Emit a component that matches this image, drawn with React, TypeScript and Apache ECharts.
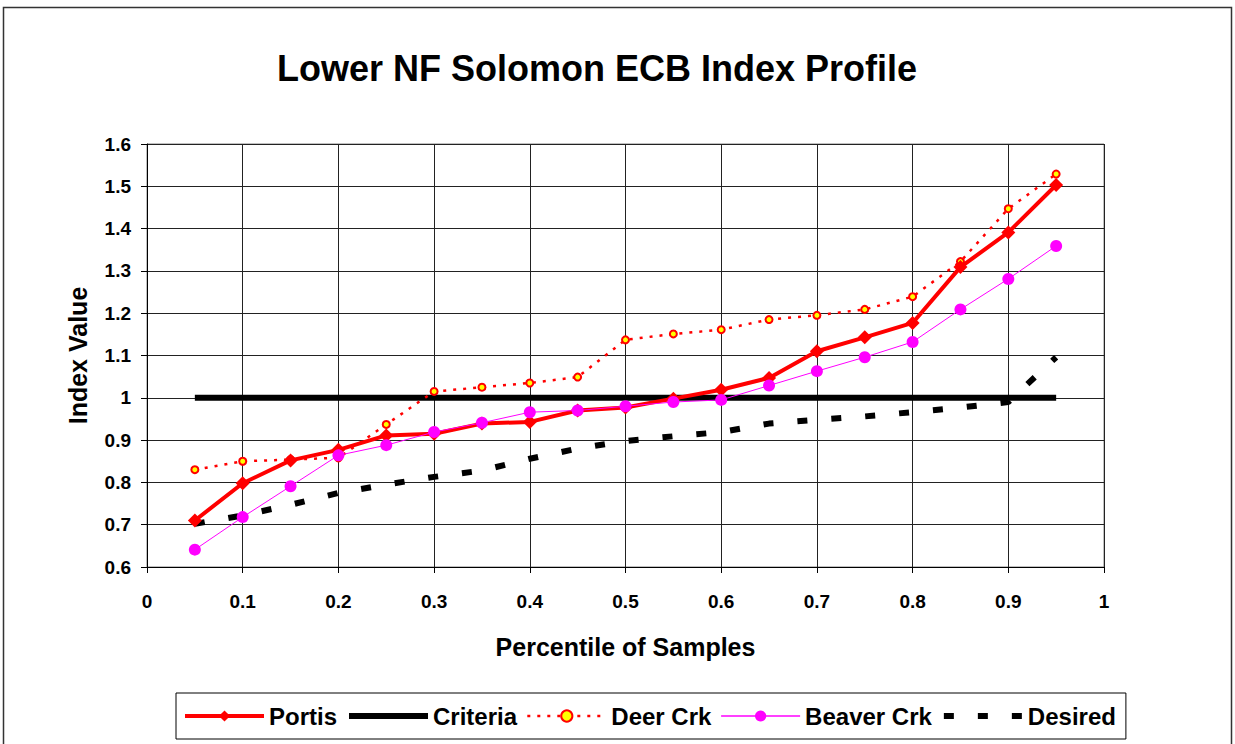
import React, { useEffect, useRef } from "react";
import * as echarts from "echarts";

const percentiles = [0.05, 0.1, 0.15, 0.2, 0.25, 0.3, 0.35, 0.4, 0.45, 0.5, 0.55, 0.6, 0.65, 0.7, 0.75, 0.8, 0.85, 0.9, 0.95];
const portis = [0.71, 0.798, 0.852, 0.877, 0.911, 0.915, 0.939, 0.943, 0.97, 0.977, 0.998, 1.019, 1.047, 1.11, 1.143, 1.177, 1.309, 1.391, 1.503];
const criteria = [1, 1, 1, 1, 1, 1, 1, 1, 1, 1, 1, 1, 1, 1, 1, 1, 1, 1, 1];
const deerCrk = [0.83, 0.85, 0.854, 0.858, 0.937, 1.015, 1.025, 1.035, 1.049, 1.137, 1.151, 1.161, 1.185, 1.195, 1.209, 1.239, 1.322, 1.447, 1.529];
const beaverCrk = [0.641, 0.718, 0.791, 0.864, 0.888, 0.919, 0.941, 0.966, 0.97, 0.98, 0.99, 0.995, 1.029, 1.063, 1.096, 1.132, 1.209, 1.281, 1.359];
const desired = [0.702, 0.722, 0.747, 0.775, 0.795, 0.813, 0.828, 0.856, 0.88, 0.898, 0.909, 0.919, 0.939, 0.948, 0.956, 0.966, 0.977, 0.99, 1.096];

const FONT = 'Arial, "Liberation Sans", sans-serif';

const pairs = (ys: number[]) => percentiles.map((x, i) => [x, ys[i]]);

export default function App() {
  const ref = useRef<HTMLDivElement>(null);
  useEffect(() => {
    if (!ref.current) return;
    const chart = echarts.init(ref.current, undefined, { renderer: "svg" });
    chart.setOption({
      animation: false,
      backgroundColor: "#ffffff",
      title: {
        text: "Lower NF Solomon ECB Index Profile",
        left: 272,
        top: 45,
        textStyle: { fontFamily: FONT, fontWeight: "bold", fontSize: 36, color: "#000" },
      },
      graphic: [
        {
          type: "rect",
          shape: { x: 3.5, y: 7.5, width: 1228, height: 760 },
          style: { fill: "none", stroke: "#333", lineWidth: 1.5 },
          silent: true,
          z: -1,
        },
      ],
      legend: {
        left: 176,
        top: 693,
        padding: [11, 10, 11, 7],
        borderColor: "#000",
        borderWidth: 1,
        itemWidth: 79,
        itemHeight: 14,
        itemGap: 9,
        data: [
          { name: "Portis", lineStyle: { width: 4 } },
          { name: "Criteria", lineStyle: { width: 6 }, itemStyle: { opacity: 0 } },
          { name: "Deer Crk", lineStyle: { width: 2.5, type: [3, 7] } },
          { name: "Beaver Crk", lineStyle: { width: 1.5 } },
          { name: "Desired", lineStyle: { width: 6, type: [10, 24] }, itemStyle: { opacity: 0 } },
        ],
        textStyle: { fontFamily: FONT, fontWeight: "bold", fontSize: 24, color: "#000" },
      },
      grid: {
        left: 147,
        right: 131,
        top: 144,
        bottom: 177,
        show: true,
        borderColor: "#808080",
        borderWidth: 1,
      },
      xAxis: {
        type: "value",
        min: 0,
        max: 1,
        interval: 0.1,
        name: "Percentile of Samples",
        nameLocation: "middle",
        nameGap: 67,
        nameTextStyle: { fontFamily: FONT, fontWeight: "bold", fontSize: 25, color: "#000" },
        axisLine: { lineStyle: { color: "#000", width: 1 } },
        axisTick: { show: true, inside: false, length: 6, lineStyle: { color: "#000" } },
        axisLabel: { margin: 25, fontFamily: FONT, fontWeight: "bold", fontSize: 19, color: "#000" },
        splitLine: { show: true, lineStyle: { color: "#222", width: 1 } },
      },
      yAxis: {
        type: "value",
        min: 0.6,
        max: 1.6,
        interval: 0.1,
        name: "Index Value",
        nameLocation: "middle",
        nameGap: 57,
        nameTextStyle: { fontFamily: FONT, fontWeight: "bold", fontSize: 25, color: "#000" },
        axisLine: { show: true, lineStyle: { color: "#000", width: 1 } },
        axisTick: { show: true, inside: false, length: 6, lineStyle: { color: "#000" } },
        axisLabel: { margin: 16, fontFamily: FONT, fontWeight: "bold", fontSize: 19, color: "#000" },
        splitLine: { show: true, lineStyle: { color: "#222", width: 1 } },
      },
      series: [
        {
          name: "Criteria",
          type: "line",
          data: pairs(criteria),
          symbol: "none",
          lineStyle: { color: "#000", width: 6 },
          itemStyle: { color: "#000" },
          z: 2,
        },
        {
          name: "Desired",
          type: "line",
          data: pairs(desired),
          symbol: "none",
          lineStyle: { color: "#000", width: 6, type: [10, 24] },
          itemStyle: { color: "#000" },
          z: 2,
        },
        {
          name: "Deer Crk",
          type: "line",
          data: pairs(deerCrk),
          symbol: "circle",
          symbolSize: 7,
          lineStyle: { color: "#ff0000", width: 2.5, type: [3, 7] },
          itemStyle: { color: "#ffff00", borderColor: "#ff0000", borderWidth: 2 },
          z: 3,
        },
        {
          name: "Portis",
          type: "line",
          data: pairs(portis),
          symbol: "diamond",
          symbolSize: 14,
          lineStyle: { color: "#ff0000", width: 4 },
          itemStyle: { color: "#ff0000" },
          z: 4,
        },
        {
          name: "Beaver Crk",
          type: "line",
          data: pairs(beaverCrk),
          symbol: "circle",
          symbolSize: 12,
          lineStyle: { color: "#ff00ff", width: 1 },
          itemStyle: { color: "#ff00ff" },
          z: 5,
        },
      ],
    });
    return () => chart.dispose();
  }, []);
  return (
    <div
      ref={ref}
      style={{ position: "fixed", left: 0, top: 0, width: 1235, height: 744, background: "#fff" }}
    />
  );
}
